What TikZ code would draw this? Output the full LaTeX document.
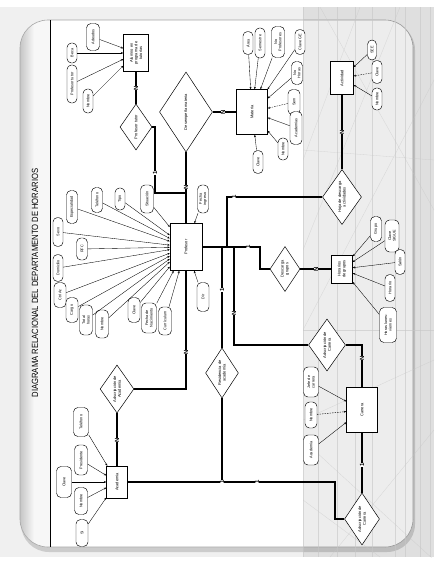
\documentclass[tikz,border=0pt]{standalone}
\usepackage{fontspec}
\setmainfont{Liberation Sans}
\usetikzlibrary{shapes.geometric,arrows.meta,calc}
\begin{document}
\begin{tikzpicture}[x=1pt,y=-1pt,
 ent/.style={draw, fill=white, rotate=90, inner sep=0.5pt, align=center, font=\fontsize{4}{4.6}\selectfont, line width=0.5pt},
 rel/.style={draw, diamond, fill=white, rotate=90, inner sep=0pt, align=center, font=\fontsize{4}{4.6}\selectfont, line width=0.5pt},
 attr/.style={draw, fill=white, rounded corners=4.5pt, rotate=90, inner sep=0.5pt, align=center, font=\fontsize{3.8}{4.3}\selectfont, line width=0.45pt, minimum height=10pt, minimum width=22pt},
 link/.style={line width=1.1pt, black},
 att/.style={line width=0.35pt, -{Stealth[length=2.4pt,width=2pt]}},
 attd/.style={att, dashed, dash pattern=on 1.5pt off 1pt},
 card/.style={rotate=90, fill=white, inner sep=0.3pt, font=\fontsize{6}{6}\selectfont\bfseries},
 bgline/.style={gray!45, line width=0.3pt, opacity=0.6}]
\useasboundingbox (0,0) rectangle (439,562);
% ---------- background ----------
\fill[white] (0,0) rectangle (439,562);
\fill[gray!12] (0,7) rectangle (434,557);
\fill[gray!40, rounded corners=28pt] (21,22) rectangle (415,552);
\fill[white, rounded corners=28pt] (20,20) rectangle (413,547);
\begin{scope}
 \clip[rounded corners=28pt] (20,20) rectangle (413,547);
 \shade[left color=gray!45, right color=gray!6] (20,20) rectangle (34,547);
 \fill[gray!6] (34,20) rectangle (50,547);
\end{scope}
\draw[gray!70, line width=0.6pt, rounded corners=28pt] (20,20) rectangle (413,547);
\draw[line width=0.7pt] (50,20) -- (50,547);
\begin{scope}
 \clip (303,7) rectangle (434,557);
 \fill[black, opacity=0.07] (303,7) rectangle (434,557);
 \foreach \xx in {303,318,337,355,372,395,405,420,430} {\draw[bgline] (\xx,7) -- (\xx,557);}
 \draw[bgline] (320,7) -- (434,210);
 \draw[bgline] (360,7) -- (303,160);
 \draw[bgline] (400,7) -- (303,250);
 \draw[bgline] (434,80) -- (303,330);
 \draw[bgline] (303,330) -- (434,330);
 \draw[bgline] (434,360) -- (303,420);
 \draw[bgline] (303,440) -- (434,560);
 \draw[bgline] (330,557) -- (434,430);
 \draw[bgline] (303,500) -- (380,557);
 \draw[bgline] (303,150) -- (434,160);
\end{scope}
\node[rotate=90, font=\fontsize{9}{9}\selectfont] (title) at (35,283) {\scalebox{0.85}[1]{DIAGRAMA RELACIONAL DEL DEPARTAMENTO DE HORARIOS}};
% ---------- entities ----------
\node[ent, minimum width=37pt, minimum height=25pt] (alum) at (136,53) {Alumno en\\programa de\\tutorías};
\node[ent, minimum width=45pt, minimum height=31pt] (mat) at (252,112) {Materia};
\node[ent, minimum width=33pt, minimum height=23pt] (act) at (342,78) {Actividad};
\node[ent, minimum width=47pt, minimum height=32pt] (prof) at (186,247) {Profesor};
\node[ent, minimum width=28pt, minimum height=21pt] (hor) at (342,269) {Horarios\\de grupos};
\node[ent, minimum width=45pt, minimum height=31pt] (car) at (362,410) {Carrera};
\node[ent, minimum width=32pt, minimum height=21pt] (acad) at (117,482) {Academia};
% ---------- relationships ----------
\node[rel, minimum width=46pt, minimum height=32pt] (ptut) at (136,127) {Profesor tutor};
\node[rel, minimum width=80pt, minimum height=53pt] (desm) at (186,112) {Desempeña materia};
\node[rel, minimum width=55pt, minimum height=39pt] (hoja) at (342,197) {Hoja de descarga\\actividades};
\node[rel, minimum width=45pt, minimum height=30pt] (desc) at (285,269) {Descarga\\grupos};
\node[rel, minimum width=52pt, minimum height=37pt] (adsc1) at (327,345) {Adscripción de\\Carrera};
\node[rel, minimum width=50pt, minimum height=31pt] (resid) at (222,373) {Residencia de\\academia};
\node[rel, minimum width=48pt, minimum height=33pt] (adac) at (117,389) {Adscripción de\\Academia};
\node[rel, minimum width=52pt, minimum height=35pt] (adsc2) at (362,519) {Adscripción de\\Carrera};
% ---------- junction coordinates ----------
\coordinate (t1) at (155,193);
\coordinate (j1) at (186,193);
\coordinate (k0) at (222,247);
\coordinate (k1) at (227,247);
\coordinate (k3) at (234,247);
\coordinate (k2) at (260,247);
\coordinate (r1) at (222,482);
\coordinate (m1) at (335,482);
% ---------- relationship links ----------
\draw[link] (alum) -- (ptut);
\draw[link] (ptut) -| (t1) -- (j1);
\draw[link] (desm) -- (prof);
\draw[link] (desm) -- (mat);
\draw[link] (prof) -- (k2) |- (desc);
\draw[link] (k1) |- (hoja);
\draw[link] (act) -- (hoja);
\draw[link] (desc) -- (hor);
\draw[link] (k0) -- (resid);
\draw[link] (resid) -- (r1);
\draw[link] (k3) |- (adsc1);
\draw[link] (adsc1) -| (car);
\draw[link] (car) -- (adsc2);
\draw[link] (adsc2) -| (m1) -- (acad);
\draw[link] (prof) |- (adac);
\draw[link] (adac) -- (acad);
% ---------- cardinalities ----------
\node[card] (c1) at (136,88) {N};
\node[card] (c2) at (155,173) {1};
\node[card] (c3) at (186,187) {N};
\node[card] (c4) at (223,112) {N};
\node[card] (c5) at (342,132) {N};
\node[card] (c6) at (234,197) {1};
\node[card] (c7) at (248,247) {1};
\node[card] (c8) at (316,269) {N};
\node[card] (c9) at (222,290) {1};
\node[card] (c10) at (234,313) {N};
\node[card] (c11) at (362,358) {N};
\node[card] (c12) at (362,465) {1};
\node[card] (c13) at (186,352) {N};
\node[card] (c14) at (117,440) {N};
\node[card] (c15) at (222,482) {1};
\node[card] (c16) at (257,482) {1};
% ---------- attributes: Alumno ----------
\node[attr, minimum width=27pt, minimum height=13pt] (a1) at (93,37) {Adeudos};
\node[attr, minimum width=20pt] (a2) at (72,53) {Beca};
\node[attr, minimum width=38pt] (a3) at (72,84) {Profesor tutor};
\node[attr, minimum width=24pt] (a4) at (88,101) {Nombre};
\foreach \a in {a1,a2,a3,a4} {\draw[att] (\a) -- (alum);}
% ---------- attributes: Materia ----------
\node[attr, minimum width=23pt] (m1a) at (248,43) {Área};
\node[attr, minimum width=30pt] (m2a) at (260,43) {Semestre};
\node[attr, minimum width=31pt, minimum height=13pt] (m3a) at (278,42) {No\\Profesores};
\node[attr, minimum width=25pt] (m4a) at (300,42) {Clave GE};
\node[attr, minimum width=23pt, minimum height=11pt] (m5a) at (297,73) {No\\Horas};
\node[attr, minimum width=25pt, minimum height=12pt] (m6a) at (294,102) {Sem};
\node[attr, minimum width=33pt, minimum height=12pt] (m7a) at (296,128) {Academias};
\node[attr, minimum width=22pt] (m8a) at (283,149) {Nombre};
\node[attr, minimum width=23pt] (m9a) at (258,162) {Clave};
\foreach \a in {m1a,m2a,m3a,m4a,m5a,m7a,m8a,m9a} {\draw[att] (\a) -- (mat);}
\draw[attd] (m6a) -- (mat);
% ---------- attributes: Actividad ----------
\node[attr, minimum width=20pt, minimum height=9pt] (s1) at (372,50) {SEE};
\node[attr, minimum width=23pt] (s2) at (377,72) {Clave};
\node[attr, minimum width=22pt] (s3) at (377,99) {Nombre};
\draw[att] (s1) -- (act);
\draw[attd] (s2) -- (act);
\draw[att] (s3) -- (act);
% ---------- attributes: Profesor ----------
\node[attr, minimum width=33pt, minimum height=11pt] (p1) at (72,207) {Especialidad};
\node[attr, minimum width=25pt, minimum height=11pt] (p2) at (97,200) {Teléfono};
\node[attr, minimum width=22pt] (p3) at (120,199) {Tipo};
\node[attr, minimum width=28pt, minimum height=13pt] (p4) at (147,199) {Situación};
\node[attr, minimum width=28pt, minimum height=11pt] (p5) at (203,199) {Fecha\\ingreso};
\node[attr, minimum width=29pt] (p6) at (58,232) {Sexo};
\node[attr, minimum width=22pt, minimum height=11pt] (p7) at (82,249) {RFC};
\node[attr, minimum width=27pt] (p8) at (58,268) {Domicilio};
\node[attr, minimum width=25pt, minimum height=12pt] (p9) at (60,295) {Ctrl Ac};
\node[attr, minimum width=25pt, minimum height=12pt] (p10) at (72,310) {Cargo};
\node[attr, minimum width=30pt, minimum height=13pt] (p11) at (86,320) {Total\\horas};
\node[attr, minimum width=28pt, minimum height=13pt] (p12) at (102,324) {Nombre};
\node[attr, minimum width=25pt, minimum height=12pt] (p13) at (134,310) {Clave};
\node[attr, minimum width=30pt, minimum height=15pt] (p14) at (149,318) {Fecha de\\Nacimiento};
\node[attr, minimum width=28pt, minimum height=13pt] (p15) at (165,321) {Currículum};
\node[attr, minimum width=29pt, minimum height=12pt] (p16) at (203,297) {Dir};
\foreach \a in {p1,p2,p3,p4,p5,p6,p7,p8,p9,p10,p11,p12,p13,p14,p15,p16} {\draw[att] (\a) -- (prof);}
% ---------- attributes: Horarios ----------
\node[attr, minimum width=25pt, minimum height=11pt] (h1) at (376,229) {Grupo};
\node[attr, minimum width=32pt, minimum height=14pt] (h2) at (392,236) {Clave\\SIGUE};
\node[attr, minimum width=25pt] (h3) at (400,262) {Salón};
\node[attr, minimum width=27pt] (h4) at (390,288) {Horario};
\node[attr, minimum width=35pt, minimum height=17pt] (h5) at (388,325) {Horas lunes-\\viernes};
\foreach \a in {h1,h2,h3,h4,h5} {\draw[att] (\a) -- (hor);}
% ---------- attributes: Carrera ----------
\node[attr, minimum width=30pt, minimum height=15pt] (r1a) at (311,382) {Jefe de\\carrera};
\node[attr, minimum width=26pt, minimum height=12pt] (r2a) at (311,415) {Nombre};
\node[attr, minimum width=30pt, minimum height=15pt] (r3a) at (311,450) {Academia};
\draw[att] (r1a) -- (car);
\draw[attd] (r2a) -- (car);
\draw[att] (r3a) -- (car);
% ---------- attributes: Academia ----------
\node[attr, minimum width=29pt, minimum height=15pt] (d1) at (81,422) {Teléfono};
\node[attr, minimum width=30pt, minimum height=13pt] (d2) at (81,460) {Presidente};
\node[attr, minimum width=31pt, minimum height=15pt] (d3) at (64,482) {Clave};
\node[attr, minimum width=27pt, minimum height=13pt] (d4) at (81,501) {Nombre};
\node[attr, minimum width=27pt, minimum height=12pt] (d5) at (82,533) {SI};
\foreach \a in {d1,d2,d3,d4,d5} {\draw[att] (\a) -- (acad);}
\end{tikzpicture}
\end{document}
